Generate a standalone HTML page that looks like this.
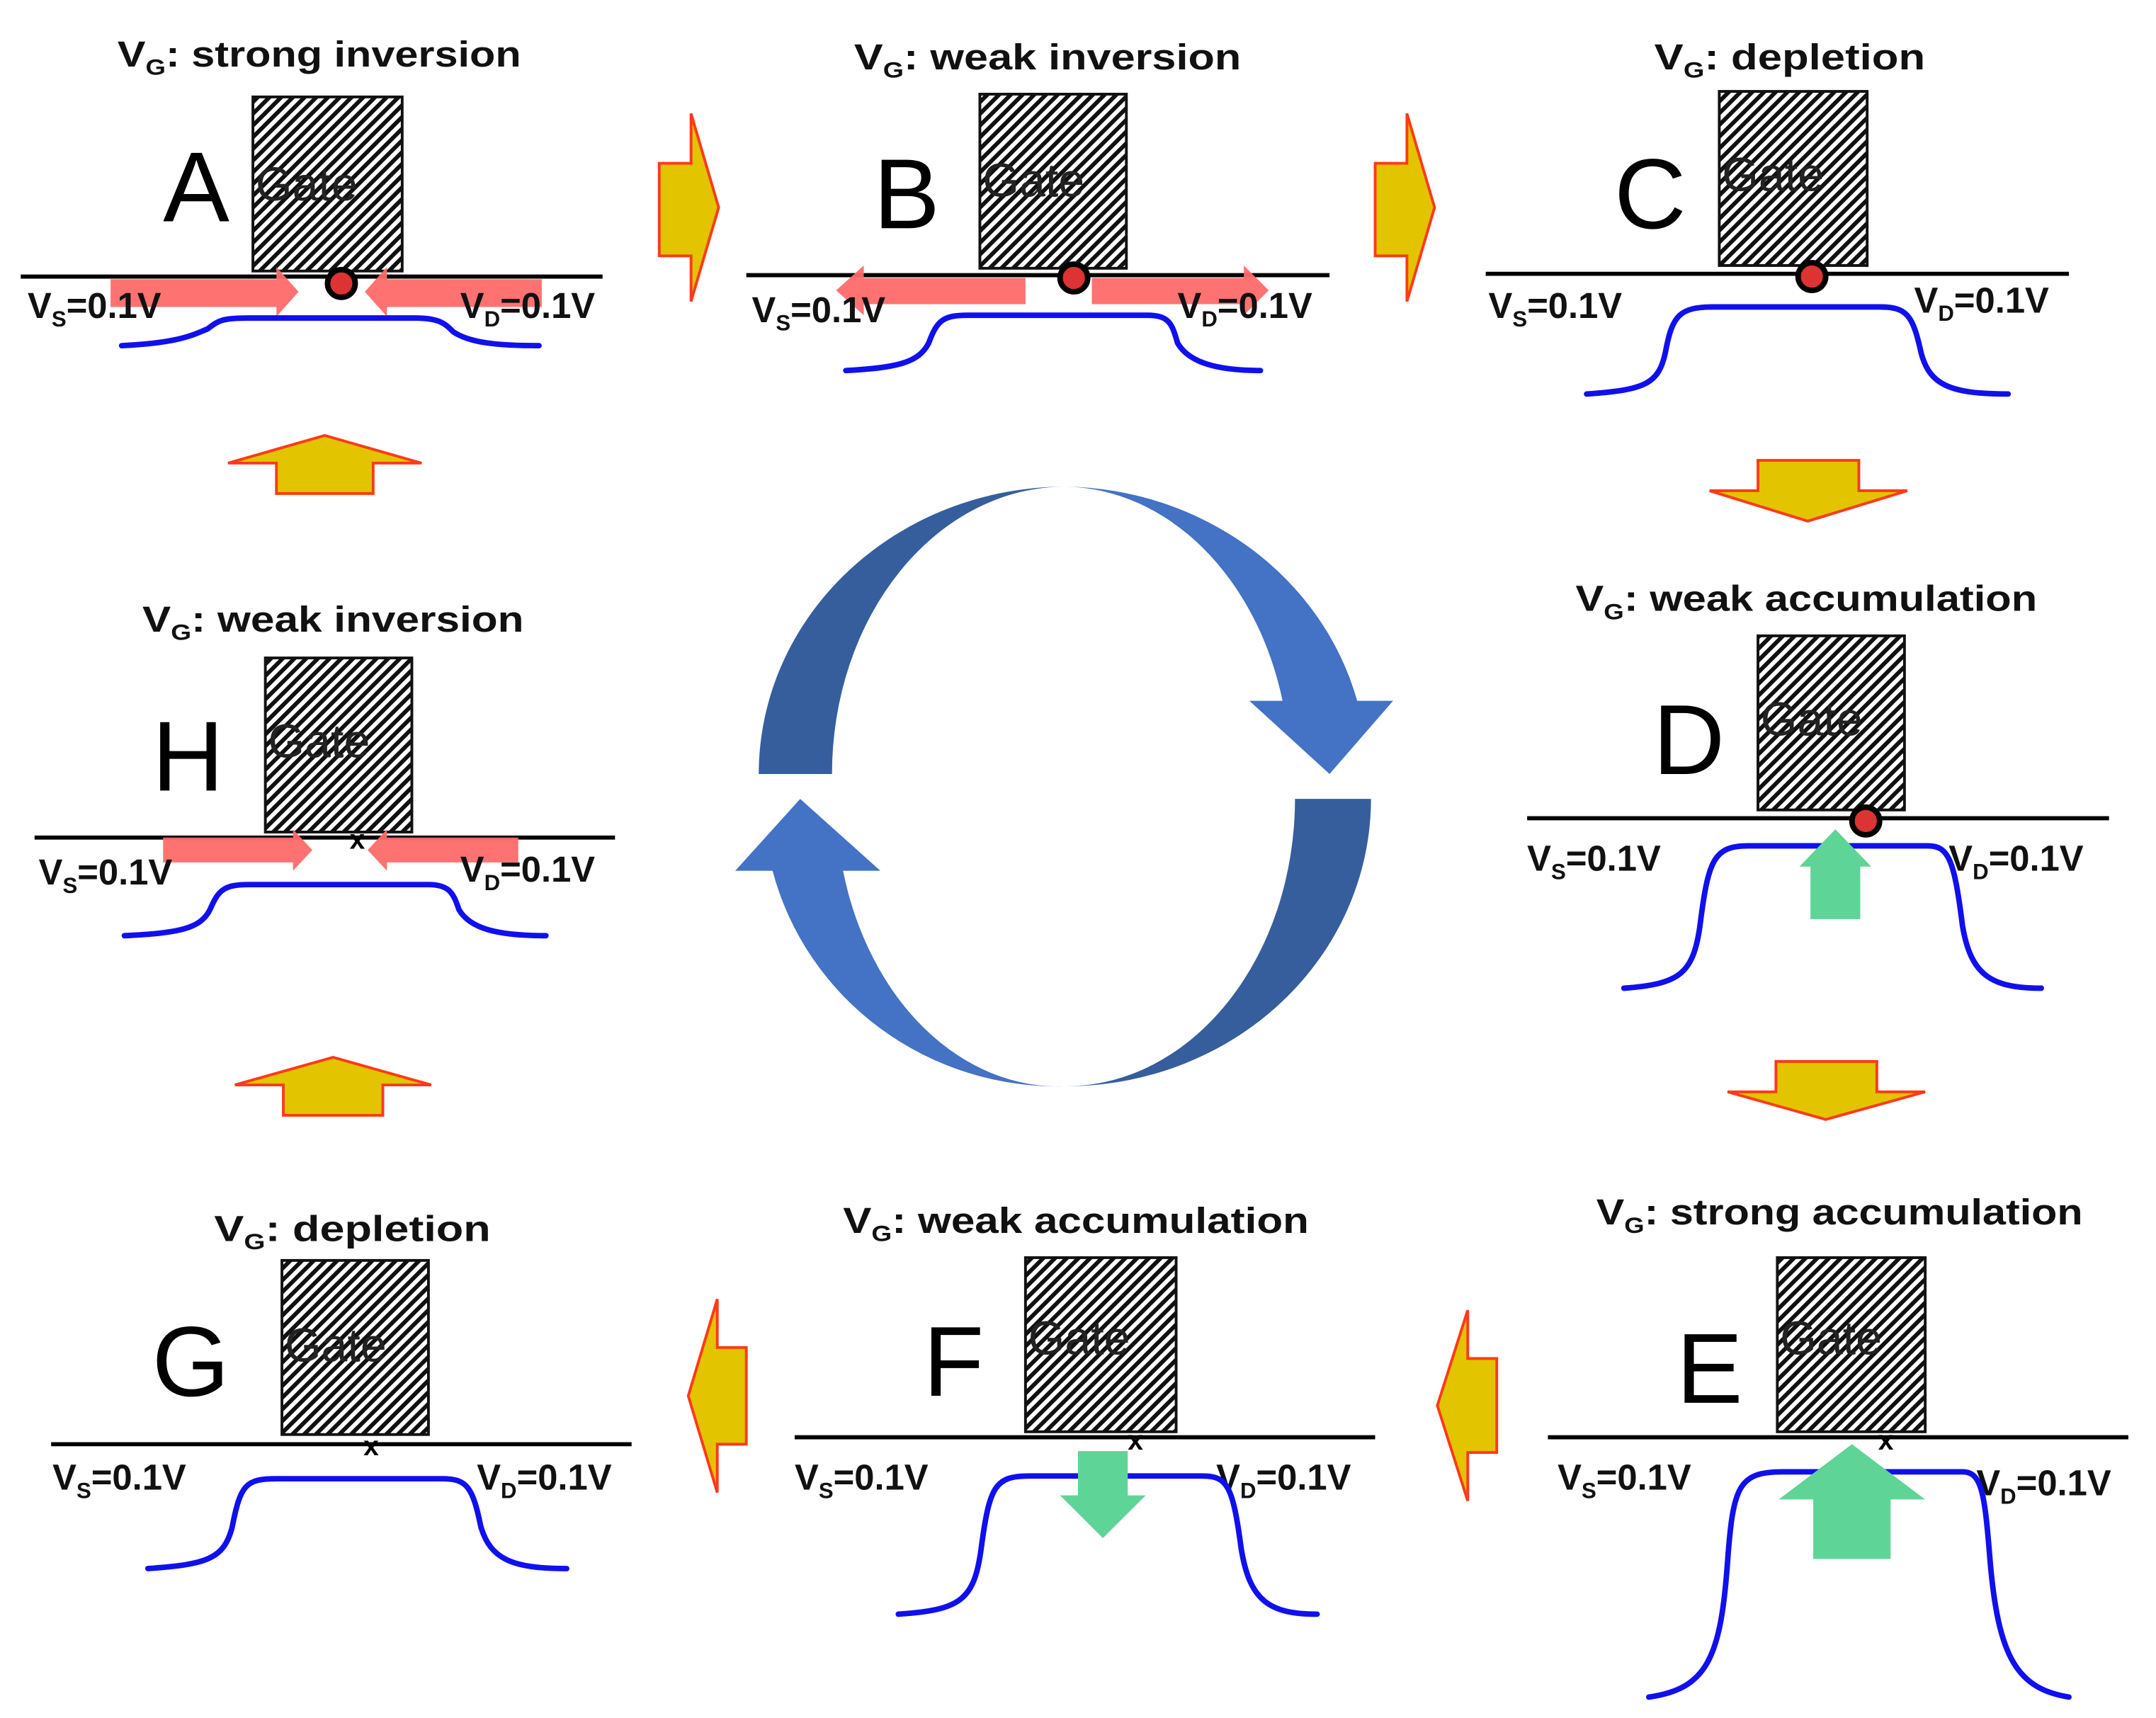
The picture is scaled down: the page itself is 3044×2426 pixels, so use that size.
<!DOCTYPE html>
<html><head><meta charset="utf-8"><style>
html,body{margin:0;padding:0;background:#fff}
svg{display:block}
text{font-family:"Liberation Sans",sans-serif}
.t{font-weight:bold;font-size:26px;fill:#111}
.v{font-weight:bold;font-size:26px;fill:#111}
.L{font-size:72px;fill:#000}
.g{font-size:34px;fill:#222}
.bl{fill:none;stroke:#1010ee;stroke-width:4;stroke-linecap:round}
.ln{stroke:#000;stroke-width:3}
.ya{fill:#e2c400;stroke:#ff3a1a;stroke-width:2}
.ra{fill:#ff6a6a;opacity:.95}
.ga{fill:#5fd497}
</style></head><body>
<svg width="3044" height="2426" viewBox="0 0 1560 1243" xmlns="http://www.w3.org/2000/svg">
<defs>
<pattern id="h" width="6" height="6" patternUnits="userSpaceOnUse" patternTransform="rotate(45)">
<rect width="6" height="6" fill="#fff"/><rect width="3" height="6" fill="#111"/></pattern>
</defs>

<!-- Blue cycle -->
<path d="M549,560 A222,208 0 0 1 771,352 A169,208 0 0 0 602,560 Z" fill="#365e9d"/>
<path d="M771,352 A222,208 0 0 1 982,507 L1008,507 L962,560 L904,507 L928,507 A165,208 0 0 0 771,352 Z" fill="#4472c4"/>
<path d="M992,578 A221,208 0 0 1 771,786 A166,208 0 0 0 937,578 Z" fill="#365e9d"/>
<path d="M771,786 A213,208 0 0 1 559,630 L532,630 L579,578 L637,630 L610,630 A161,208 0 0 0 771,786 Z" fill="#4472c4"/>

<!-- Yellow arrows -->
<path class="ya" d="M477,118 L500,118 L500,82 L520,150 L500,218 L500,185 L477,185 Z"/>
<path class="ya" d="M995,118 L1018,118 L1018,82 L1038,150 L1018,218 L1018,185 L995,185 Z"/>
<path class="ya" d="M200,357 L200,335 L165,335 L235,315 L305,335 L270,335 L270,357 Z"/>
<path class="ya" d="M205,807 L205,785 L170,785 L241,765 L312,785 L277,785 L277,807 Z"/>
<path class="ya" d="M1272,333 L1345,333 L1345,355 L1380,355 L1308,377 L1237,355 L1272,355 Z"/>
<path class="ya" d="M1285,768 L1358,768 L1358,790 L1393,790 L1321,810 L1250,790 L1285,790 Z"/>
<path class="ya" d="M540,975 L519,975 L519,940 L498,1010 L519,1080 L519,1045 L540,1045 Z"/>
<path class="ya" d="M1083,983 L1062,983 L1062,948 L1040,1017 L1062,1086 L1062,1051 L1083,1051 Z"/>

<!-- Panel A -->
<text class="t" x="85" y="48" textLength="292" lengthAdjust="spacingAndGlyphs">V<tspan font-size="16" dy="6">G</tspan><tspan dy="-6">: strong inversion</tspan></text>
<rect x="183" y="70" width="108" height="126" fill="url(#h)" stroke="#111" stroke-width="2"/>
<text class="g" x="185" y="145">Gate</text>
<text class="L" x="118" y="160">A</text>
<line class="ln" x1="15" y1="200" x2="436" y2="200"/>
<path class="ra" d="M80,202 L200,202 L200,193 L216,211 L200,229 L200,222 L80,222 Z"/>
<path class="ra" d="M392,202 L280,202 L280,193 L264,211 L280,229 L280,222 L392,222 Z"/>
<circle cx="247" cy="205" r="10" fill="#d33" stroke="#000" stroke-width="4"/>
<text class="v" x="20" y="230">V<tspan font-size="16" dy="6">S</tspan><tspan dy="-6">=0.1V</tspan></text>
<text class="v" x="333" y="230">V<tspan font-size="16" dy="6">D</tspan><tspan dy="-6">=0.1V</tspan></text>
<path class="bl" d="M88,250 C130,248 140,242 150,238 C158,232 160,230 180,230 L300,230 C318,230 322,234 328,240 C340,248 360,250 390,250"/>

<!-- Panel B -->
<text class="t" x="618" y="50" textLength="280" lengthAdjust="spacingAndGlyphs">V<tspan font-size="16" dy="6">G</tspan><tspan dy="-6">: weak inversion</tspan></text>
<rect x="709" y="68" width="106" height="126" fill="url(#h)" stroke="#111" stroke-width="2"/>
<text class="g" x="711" y="142">Gate</text>
<text class="L" x="632" y="165">B</text>
<line class="ln" x1="540" y1="199" x2="962" y2="199"/>
<path class="ra" d="M742,201 L625,201 L625,192 L605,210 L625,228 L625,220 L742,220 Z"/>
<path class="ra" d="M790,201 L900,201 L900,192 L918,210 L900,228 L900,220 L790,220 Z"/>
<circle cx="777" cy="201" r="10" fill="#d33" stroke="#000" stroke-width="4"/>
<text class="v" x="544" y="233">V<tspan font-size="16" dy="6">S</tspan><tspan dy="-6">=0.1V</tspan></text>
<text class="v" x="852" y="230">V<tspan font-size="16" dy="6">D</tspan><tspan dy="-6">=0.1V</tspan></text>
<path class="bl" d="M612,268 C650,266 665,262 672,248 C678,232 682,228 700,228 L830,228 C846,228 848,234 852,248 C860,262 880,268 912,268"/>

<!-- Panel C -->
<text class="t" x="1197" y="50" textLength="196" lengthAdjust="spacingAndGlyphs">V<tspan font-size="16" dy="6">G</tspan><tspan dy="-6">: depletion</tspan></text>
<rect x="1244" y="66" width="107" height="126" fill="url(#h)" stroke="#111" stroke-width="2"/>
<text class="g" x="1246" y="138">Gate</text>
<text class="L" x="1168" y="165">C</text>
<line class="ln" x1="1075" y1="198" x2="1497" y2="198"/>
<circle cx="1311" cy="200" r="10" fill="#d33" stroke="#000" stroke-width="4"/>
<text class="v" x="1077" y="230">V<tspan font-size="16" dy="6">S</tspan><tspan dy="-6">=0.1V</tspan></text>
<text class="v" x="1385" y="226">V<tspan font-size="16" dy="6">D</tspan><tspan dy="-6">=0.1V</tspan></text>
<path class="bl" d="M1148,285 C1190,282 1200,278 1205,255 C1210,228 1215,222 1240,222 L1360,222 C1380,222 1384,228 1390,255 C1396,278 1410,285 1453,285"/>

<!-- Panel H -->
<text class="t" x="103" y="457" textLength="276" lengthAdjust="spacingAndGlyphs">V<tspan font-size="16" dy="6">G</tspan><tspan dy="-6">: weak inversion</tspan></text>
<rect x="192" y="476" width="106" height="126" fill="url(#h)" stroke="#111" stroke-width="2"/>
<text class="g" x="194" y="548">Gate</text>
<text class="L" x="110" y="572">H</text>
<line class="ln" x1="25" y1="606" x2="445" y2="606"/>
<path class="ra" d="M118,606 L212,606 L212,600 L226,615 L212,630 L212,624 L118,624 Z"/>
<path class="ra" d="M375,606 L280,606 L280,600 L266,615 L280,630 L280,624 L375,624 Z"/>
<text x="253" y="614" font-size="20" font-weight="bold">x</text>
<text class="v" x="28" y="640">V<tspan font-size="16" dy="6">S</tspan><tspan dy="-6">=0.1V</tspan></text>
<text class="v" x="333" y="638">V<tspan font-size="16" dy="6">D</tspan><tspan dy="-6">=0.1V</tspan></text>
<path class="bl" d="M90,677 C130,675 145,672 152,658 C158,644 162,640 180,640 L310,640 C325,640 328,646 332,658 C340,672 360,677 395,677"/>

<!-- Panel D -->
<text class="t" x="1140" y="442" textLength="334" lengthAdjust="spacingAndGlyphs">V<tspan font-size="16" dy="6">G</tspan><tspan dy="-6">: weak accumulation</tspan></text>
<rect x="1272" y="460" width="106" height="126" fill="url(#h)" stroke="#111" stroke-width="2"/>
<text class="g" x="1274" y="532">Gate</text>
<text class="L" x="1196" y="560">D</text>
<line class="ln" x1="1105" y1="592" x2="1526" y2="592"/>
<text class="v" x="1105" y="630">V<tspan font-size="16" dy="6">S</tspan><tspan dy="-6">=0.1V</tspan></text>
<text class="v" x="1410" y="630">V<tspan font-size="16" dy="6">D</tspan><tspan dy="-6">=0.1V</tspan></text>
<path class="bl" d="M1175,715 C1215,712 1225,705 1230,670 C1236,622 1240,612 1265,612 L1395,612 C1410,612 1414,622 1420,670 C1426,705 1440,715 1477,715"/>
<path class="ga" d="M1310,665 L1346,665 L1346,627 L1354,627 L1328,600 L1302,627 L1310,627 Z"/>
<circle cx="1350" cy="594" r="10" fill="#d33" stroke="#000" stroke-width="4"/>

<!-- Panel G -->
<text class="t" x="155" y="898" textLength="200" lengthAdjust="spacingAndGlyphs">V<tspan font-size="16" dy="6">G</tspan><tspan dy="-6">: depletion</tspan></text>
<rect x="204" y="912" width="106" height="126" fill="url(#h)" stroke="#111" stroke-width="2"/>
<text class="g" x="206" y="985">Gate</text>
<text class="L" x="110" y="1010">G</text>
<line class="ln" x1="37" y1="1045" x2="457" y2="1045"/>
<text x="263" y="1053" font-size="20" font-weight="bold">x</text>
<text class="v" x="38" y="1078">V<tspan font-size="16" dy="6">S</tspan><tspan dy="-6">=0.1V</tspan></text>
<text class="v" x="345" y="1078">V<tspan font-size="16" dy="6">D</tspan><tspan dy="-6">=0.1V</tspan></text>
<path class="bl" d="M107,1135 C150,1132 162,1128 168,1105 C174,1074 178,1070 200,1070 L320,1070 C338,1070 342,1076 348,1105 C355,1128 370,1135 410,1135"/>

<!-- Panel F -->
<text class="t" x="610" y="892" textLength="337" lengthAdjust="spacingAndGlyphs">V<tspan font-size="16" dy="6">G</tspan><tspan dy="-6">: weak accumulation</tspan></text>
<rect x="742" y="910" width="109" height="126" fill="url(#h)" stroke="#111" stroke-width="2"/>
<text class="g" x="744" y="980">Gate</text>
<text class="L" x="668" y="1010">F</text>
<line class="ln" x1="575" y1="1040" x2="995" y2="1040"/>
<text x="816" y="1049" font-size="20" font-weight="bold">x</text>
<text class="v" x="575" y="1078">V<tspan font-size="16" dy="6">S</tspan><tspan dy="-6">=0.1V</tspan></text>
<text class="v" x="880" y="1078">V<tspan font-size="16" dy="6">D</tspan><tspan dy="-6">=0.1V</tspan></text>
<path class="bl" d="M650,1168 C695,1165 705,1158 710,1120 C716,1075 720,1068 745,1068 L870,1068 C888,1068 892,1075 898,1120 C904,1158 918,1168 953,1168"/>
<path class="ga" d="M780,1050 L816,1050 L816,1082 L829,1082 L798,1113 L767,1082 L780,1082 Z"/>

<!-- Panel E -->
<text class="t" x="1155" y="886" textLength="352" lengthAdjust="spacingAndGlyphs">V<tspan font-size="16" dy="6">G</tspan><tspan dy="-6">: strong accumulation</tspan></text>
<rect x="1286" y="910" width="107" height="126" fill="url(#h)" stroke="#111" stroke-width="2"/>
<text class="g" x="1288" y="980">Gate</text>
<text class="L" x="1213" y="1015">E</text>
<line class="ln" x1="1120" y1="1040" x2="1540" y2="1040"/>
<text x="1359" y="1049" font-size="20" font-weight="bold">x</text>
<text class="v" x="1127" y="1078">V<tspan font-size="16" dy="6">S</tspan><tspan dy="-6">=0.1V</tspan></text>
<text class="v" x="1430" y="1082">V<tspan font-size="16" dy="6">D</tspan><tspan dy="-6">=0.1V</tspan></text>
<path class="bl" d="M1193,1228 C1235,1222 1245,1200 1250,1130 C1254,1075 1258,1065 1290,1065 L1420,1065 C1434,1065 1436,1080 1440,1130 C1446,1200 1460,1222 1497,1228"/>
<path class="ga" d="M1312,1128 L1368,1128 L1368,1085 L1393,1085 L1340,1045 L1287,1085 L1312,1085 Z"/>
</svg>
</body></html>
